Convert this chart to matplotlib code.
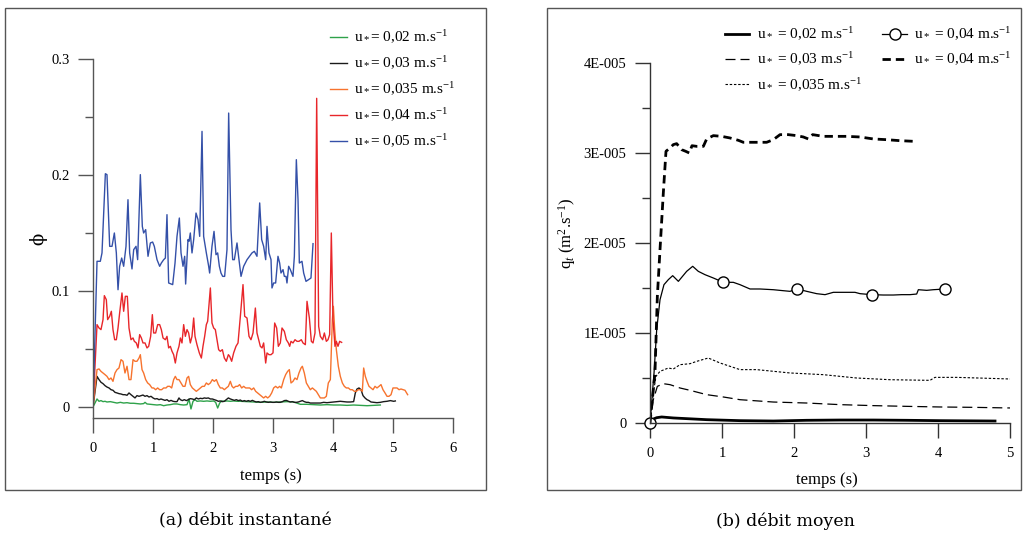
import numpy as np
import matplotlib.pyplot as plt
from matplotlib.patches import Rectangle

plt.rcParams['font.family'] = 'Liberation Serif'
plt.rcParams['mathtext.fontset'] = 'custom'
plt.rcParams['mathtext.rm'] = 'Liberation Serif'
plt.rcParams['mathtext.it'] = 'Liberation Serif:italic'
plt.rcParams['mathtext.bf'] = 'Liberation Serif:bold'

# --------------------------------------------------
# (a) instantaneous flux phi(t) as (t, phi)
# --------------------------------------------------
phi_002 = [
    (0, 0), (0.067, 0.0069), (0.1, 0.0049), (0.133, 0.0055), (0.167, 0.0046), (0.2, 0.0049),
    (0.233, 0.0043), (0.289, 0.0046), (0.344, 0.0040), (0.4, 0.0034), (0.456, 0.0040),
    (0.511, 0.0034), (0.567, 0.0037), (0.622, 0.0032), (0.678, 0.0032), (0.733, 0.0029),
    (0.789, 0.0026), (0.844, 0.0029), (0.867, 0.0040), (0.9, 0.0026), (0.956, 0.0023),
    (1.011, 0.0020), (1.067, 0.0017), (1.122, 0.0020), (1.178, 0.0011), (1.233, 0.0017),
    (1.289, 0.0020), (1.344, 0.0026), (1.4, 0.0026), (1.456, 0.0020), (1.511, 0.0017),
    (1.567, 0.0020), (1.6, 0.0069), (1.633, -0.0017), (1.667, 0.0049), (1.7, 0.0063),
    (1.733, 0.0049), (1.789, 0.0052), (1.844, 0.0049), (1.9, 0.0052), (1.956, 0.0049),
    (2.011, 0.0052), (2.044, 0.0040), (2.078, -0.0009), (2.111, 0.0034), (2.144, 0.0052),
    (2.178, 0.0049), (2.233, 0.0052), (2.289, 0.0049), (2.344, 0.0052), (2.4, 0.0049),
    (2.456, 0.0049), (2.567, 0.0046), (2.678, 0.0043), (2.789, 0.0040), (2.9, 0.0043),
    (3.011, 0.0040), (3.122, 0.0043), (3.233, 0.0046), (3.344, 0.0043), (3.456, 0.0023),
    (3.567, 0.0023), (3.678, 0.0020), (3.789, 0.0017), (3.9, 0.0020), (4.011, 0.0017),
    (4.122, 0.0017), (4.233, 0.0014), (4.344, 0.0017), (4.456, 0.0014), (4.567, 0.0011),
    (4.678, 0.0014), (4.789, 0.0017),
]

phi_003 = [
    (0, 0), (0.067, 0.0264), (0.1, 0.0236), (0.133, 0.0213), (0.167, 0.0201), (0.2, 0.0184),
    (0.233, 0.0172), (0.267, 0.0164), (0.3, 0.0149), (0.333, 0.0144), (0.367, 0.0126),
    (0.4, 0.0121), (0.433, 0.0115), (0.467, 0.0112), (0.5, 0.0106), (0.533, 0.0106),
    (0.567, 0.0101), (0.6, 0.0121), (0.633, 0.0106), (0.667, 0.0092), (0.7, 0.0078),
    (0.733, 0.0098), (0.767, 0.0092), (0.8, 0.0098), (0.833, 0.0103), (0.867, 0.0092),
    (0.9, 0.0098), (0.933, 0.0086), (0.967, 0.0092), (1.0, 0.0078), (1.033, 0.0069),
    (1.067, 0.0072), (1.1, 0.0063), (1.133, 0.0069), (1.167, 0.0063), (1.2, 0.0057),
    (1.233, 0.0063), (1.267, 0.0049), (1.3, 0.0057), (1.333, 0.0049), (1.367, 0.0046),
    (1.4, 0.0046), (1.433, 0.0078), (1.456, 0.0063), (1.489, 0.0055), (1.522, 0.0063),
    (1.556, 0.0055), (1.589, 0.0063), (1.622, 0.0072), (1.656, 0.0069), (1.689, 0.0063),
    (1.722, 0.0078), (1.756, 0.0069), (1.789, 0.0075), (1.822, 0.0072), (1.856, 0.0078),
    (1.889, 0.0075), (1.922, 0.0078), (1.956, 0.0069), (1.989, 0.0069), (2.022, 0.0063),
    (2.056, 0.0057), (2.089, 0.0049), (2.122, 0.0052), (2.156, 0.0046), (2.189, 0.0049),
    (2.222, 0.0063), (2.256, 0.0078), (2.289, 0.0069), (2.322, 0.0063), (2.356, 0.0057),
    (2.389, 0.0063), (2.422, 0.0055), (2.456, 0.0060), (2.489, 0.0049), (2.522, 0.0055),
    (2.556, 0.0049), (2.589, 0.0055), (2.622, 0.0049), (2.656, 0.0057), (2.689, 0.0049),
    (2.722, 0.0043), (2.756, 0.0046), (2.789, 0.0040), (2.822, 0.0043), (2.856, 0.0049),
    (2.889, 0.0043), (2.922, 0.0040), (2.956, 0.0043), (2.989, 0.0040), (3.022, 0.0040),
    (3.056, 0.0043), (3.089, 0.0040), (3.122, 0.0040), (3.156, 0.0046), (3.189, 0.0055),
    (3.222, 0.0057), (3.256, 0.0049), (3.289, 0.0043), (3.322, 0.0046), (3.356, 0.0040),
    (3.389, 0.0040), (3.422, 0.0043), (3.456, 0.0049), (3.489, 0.0055), (3.522, 0.0046),
    (3.556, 0.0040), (3.589, 0.0040), (3.622, 0.0034), (3.678, 0.0034), (3.733, 0.0034),
    (3.789, 0.0034), (3.844, 0.0040), (3.9, 0.0037), (3.956, 0.0040), (4.011, 0.0043),
    (4.067, 0.0046), (4.122, 0.0049), (4.178, 0.0046), (4.233, 0.0043), (4.289, 0.0043),
    (4.344, 0.0046), (4.372, 0.0121), (4.4, 0.0155), (4.433, 0.0164), (4.467, 0.0149),
    (4.5, 0.0098), (4.533, 0.0078), (4.567, 0.0063), (4.6, 0.0055), (4.633, 0.0043),
    (4.678, 0.0040), (4.733, 0.0037), (4.789, 0.0040), (4.844, 0.0046), (4.9, 0.0049),
    (4.956, 0.0055), (5.011, 0.0049), (5.039, 0.0052),
]

phi_0035 = [
    (0, 0), (0.067, 0.0322), (0.1, 0.0328), (0.133, 0.0307), (0.167, 0.0293), (0.2, 0.0279),
    (0.233, 0.0264), (0.267, 0.0236), (0.3, 0.0250), (0.333, 0.0221), (0.367, 0.0293),
    (0.4, 0.0322), (0.433, 0.0336), (0.467, 0.0408), (0.5, 0.0394), (0.533, 0.0293),
    (0.567, 0.0351), (0.6, 0.0236), (0.633, 0.0236), (0.667, 0.0408), (0.7, 0.0394),
    (0.733, 0.0394), (0.767, 0.0422), (0.789, 0.0451), (0.817, 0.0322), (0.844, 0.0293),
    (0.878, 0.0236), (0.911, 0.0207), (0.944, 0.0193), (0.983, 0.0164), (1.011, 0.0164),
    (1.044, 0.0149), (1.078, 0.0164), (1.111, 0.0149), (1.144, 0.0149), (1.178, 0.0164),
    (1.217, 0.0164), (1.244, 0.0178), (1.278, 0.0178), (1.311, 0.0164), (1.344, 0.0236),
    (1.372, 0.0264), (1.4, 0.0236), (1.433, 0.0236), (1.467, 0.0207), (1.5, 0.0178),
    (1.533, 0.0178), (1.567, 0.0250), (1.594, 0.0264), (1.622, 0.0193), (1.656, 0.0164),
    (1.689, 0.0149), (1.722, 0.0135), (1.756, 0.0149), (1.789, 0.0164), (1.822, 0.0178),
    (1.856, 0.0178), (1.889, 0.0207), (1.922, 0.0193), (1.956, 0.0207), (1.989, 0.0236),
    (2.022, 0.0221), (2.056, 0.0236), (2.089, 0.0193), (2.122, 0.0164), (2.156, 0.0164),
    (2.189, 0.0149), (2.222, 0.0164), (2.256, 0.0178), (2.289, 0.0221), (2.317, 0.0178),
    (2.344, 0.0164), (2.378, 0.0178), (2.411, 0.0178), (2.444, 0.0193), (2.478, 0.0164),
    (2.511, 0.0178), (2.544, 0.0164), (2.578, 0.0164), (2.611, 0.0164), (2.644, 0.0149),
    (2.678, 0.0164), (2.711, 0.0135), (2.744, 0.0121), (2.778, 0.0106), (2.811, 0.0092),
    (2.844, 0.0078), (2.878, 0.0092), (2.911, 0.0078), (2.944, 0.0092), (2.978, 0.0121),
    (3.011, 0.0164), (3.044, 0.0178), (3.078, 0.0164), (3.111, 0.0178), (3.139, 0.0164),
    (3.178, 0.0236), (3.211, 0.0279), (3.244, 0.0307), (3.272, 0.0322), (3.3, 0.0207),
    (3.333, 0.0221), (3.367, 0.0250), (3.4, 0.0236), (3.433, 0.0293), (3.467, 0.0336),
    (3.489, 0.0351), (3.522, 0.0293), (3.556, 0.0207), (3.589, 0.0178), (3.622, 0.0149),
    (3.656, 0.0164), (3.689, 0.0149), (3.722, 0.0135), (3.756, 0.0106), (3.789, 0.0078),
    (3.822, 0.0078), (3.856, 0.0078), (3.889, 0.0092), (3.922, 0.0207), (3.956, 0.0236),
    (3.989, 0.0753), (4.006, 0.0868), (4.028, 0.0667), (4.056, 0.0494), (4.089, 0.0351),
    (4.122, 0.0264), (4.156, 0.0207), (4.189, 0.0178), (4.222, 0.0164), (4.256, 0.0164),
    (4.289, 0.0149), (4.322, 0.0149), (4.356, 0.0135), (4.389, 0.0135), (4.422, 0.0149),
    (4.456, 0.0149), (4.489, 0.0135), (4.511, 0.0336), (4.539, 0.0264), (4.567, 0.0221),
    (4.6, 0.0178), (4.633, 0.0164), (4.667, 0.0149), (4.7, 0.0178), (4.733, 0.0164),
    (4.767, 0.0178), (4.8, 0.0193), (4.833, 0.0149), (4.867, 0.0121), (4.9, 0.0092),
    (4.933, 0.0092), (4.967, 0.0106), (5.0, 0.0164), (5.033, 0.0164), (5.067, 0.0164),
    (5.1, 0.0149), (5.133, 0.0155), (5.167, 0.0149), (5.2, 0.0144), (5.244, 0.0106),
]

phi_004 = [
    (0, 0), (0.067, 0.0710), (0.1, 0.0681), (0.133, 0.0667), (0.167, 0.0753), (0.189, 0.0960),
    (0.222, 0.0925), (0.244, 0.0753), (0.278, 0.0782), (0.306, 0.0825), (0.333, 0.0667),
    (0.361, 0.0580), (0.389, 0.0580), (0.417, 0.0681), (0.444, 0.0810), (0.483, 0.0983),
    (0.511, 0.0825), (0.539, 0.0954), (0.572, 0.0954), (0.6, 0.0681), (0.633, 0.0580),
    (0.667, 0.0595), (0.689, 0.0566), (0.722, 0.0552), (0.75, 0.0509), (0.778, 0.0624),
    (0.806, 0.0595), (0.833, 0.0552), (0.867, 0.0552), (0.9, 0.0509), (0.928, 0.0523),
    (0.961, 0.0609), (0.989, 0.0796), (1.011, 0.0638), (1.044, 0.0638), (1.078, 0.0710),
    (1.111, 0.0710), (1.139, 0.0667), (1.167, 0.0595), (1.206, 0.0580), (1.233, 0.0609),
    (1.261, 0.0509), (1.289, 0.0523), (1.317, 0.0480), (1.344, 0.0451), (1.372, 0.0379),
    (1.4, 0.0466), (1.433, 0.0523), (1.456, 0.0595), (1.483, 0.0552), (1.511, 0.0710),
    (1.539, 0.0609), (1.567, 0.0667), (1.594, 0.0638), (1.622, 0.0552), (1.65, 0.0609),
    (1.678, 0.0767), (1.7, 0.0609), (1.733, 0.0537), (1.772, 0.0466), (1.806, 0.0422),
    (1.833, 0.0523), (1.861, 0.0609), (1.889, 0.0710), (1.911, 0.0739), (1.956, 0.1026),
    (1.983, 0.0724), (2.011, 0.0681), (2.039, 0.0667), (2.067, 0.0580), (2.094, 0.0494),
    (2.122, 0.0480), (2.156, 0.0494), (2.189, 0.0422), (2.222, 0.0394), (2.256, 0.0451),
    (2.278, 0.0437), (2.311, 0.0394), (2.344, 0.0466), (2.383, 0.0523), (2.417, 0.0552),
    (2.456, 0.0782), (2.5, 0.1055), (2.528, 0.0782), (2.567, 0.0767), (2.6, 0.0609),
    (2.633, 0.0580), (2.667, 0.0638), (2.706, 0.0853), (2.733, 0.0638), (2.761, 0.0580),
    (2.789, 0.0523), (2.817, 0.0509), (2.844, 0.0552), (2.878, 0.0379), (2.9, 0.0466),
    (2.933, 0.0451), (2.967, 0.0451), (3.0, 0.0466), (3.028, 0.0724), (3.061, 0.0681),
    (3.089, 0.0523), (3.122, 0.0552), (3.15, 0.0681), (3.189, 0.0652), (3.222, 0.0580),
    (3.256, 0.0552), (3.278, 0.0523), (3.3, 0.0566), (3.333, 0.0552), (3.367, 0.0580),
    (3.4, 0.0566), (3.433, 0.0566), (3.472, 0.0580), (3.5, 0.0552), (3.539, 0.0537),
    (3.567, 0.0911), (3.606, 0.0767), (3.639, 0.0566), (3.667, 0.0552), (3.7, 0.0638),
    (3.728, 0.2661), (3.761, 0.0695), (3.789, 0.0609), (3.828, 0.0580), (3.856, 0.0638),
    (3.889, 0.0566), (3.917, 0.0580), (3.944, 0.0624), (3.972, 0.1500), (4.0, 0.0753),
    (4.033, 0.0523), (4.056, 0.0566), (4.083, 0.0523), (4.111, 0.0566), (4.144, 0.0557),
]

phi_005 = [
    (0, 0), (0.067, 0.1256), (0.122, 0.1256), (0.15, 0.1328), (0.206, 0.2011), (0.233, 0.2003),
    (0.278, 0.1385), (0.317, 0.1385), (0.356, 0.1500), (0.389, 0.1328), (0.417, 0.1011),
    (0.444, 0.1213), (0.478, 0.1284), (0.511, 0.1213), (0.55, 0.1385), (0.583, 0.1787),
    (0.611, 0.1328), (0.65, 0.1190), (0.678, 0.1356), (0.717, 0.1385), (0.744, 0.1270),
    (0.789, 0.2003), (0.822, 0.1557), (0.844, 0.1500), (0.878, 0.1529), (0.917, 0.1299),
    (0.956, 0.1414), (0.994, 0.1422), (1.022, 0.1385), (1.067, 0.1270), (1.111, 0.1213),
    (1.139, 0.1241), (1.178, 0.1270), (1.206, 0.1284), (1.233, 0.1658), (1.261, 0.1069),
    (1.289, 0.1063), (1.328, 0.1055), (1.367, 0.1241), (1.4, 0.1471), (1.439, 0.1629),
    (1.467, 0.1328), (1.5, 0.1213), (1.528, 0.1299), (1.544, 0.1060), (1.583, 0.1443),
    (1.6, 0.1428), (1.622, 0.1500), (1.65, 0.1328), (1.678, 0.1443), (1.717, 0.1672),
    (1.75, 0.1615), (1.778, 0.1471), (1.817, 0.2376), (1.844, 0.1471), (1.889, 0.1328),
    (1.928, 0.1213), (1.944, 0.1155), (1.983, 0.1385), (2.017, 0.1514), (2.05, 0.1313),
    (2.078, 0.1328), (2.106, 0.1213), (2.133, 0.1155), (2.161, 0.1126), (2.194, 0.1126),
    (2.233, 0.1356), (2.261, 0.2534), (2.3, 0.1529), (2.328, 0.1270), (2.356, 0.1270),
    (2.4, 0.1414), (2.433, 0.1270), (2.467, 0.1126), (2.511, 0.1213), (2.567, 0.1270),
    (2.65, 0.1328), (2.689, 0.1342), (2.733, 0.1299), (2.778, 0.1759), (2.811, 0.1443),
    (2.844, 0.1385), (2.878, 0.1270), (2.9, 0.1557), (2.933, 0.1328), (2.967, 0.1270),
    (2.983, 0.1026), (3.011, 0.1069), (3.044, 0.1069), (3.083, 0.1299), (3.111, 0.1241),
    (3.133, 0.1155), (3.167, 0.1184), (3.189, 0.1126), (3.217, 0.1126), (3.233, 0.1069),
    (3.261, 0.1213), (3.289, 0.1184), (3.333, 0.1126), (3.356, 0.1299), (3.389, 0.2132),
    (3.417, 0.1787), (3.439, 0.1241), (3.483, 0.1256), (3.511, 0.1155), (3.55, 0.1083),
    (3.594, 0.1098), (3.633, 0.1112), (3.667, 0.1408),
]

phi_labels = [r'u$_*$= 0,02 m.s$^{-1}$', r'u$_*$= 0,03 m.s$^{-1}$', r'u$_*$= 0,035 m.s$^{-1}$',
              r'u$_*$= 0,04 m.s$^{-1}$', r'u$_*$= 0,05 m.s$^{-1}$']

# --------------------------------------------------
# (b) mean flux q_t(t), in units of 1E-005 m2/s
# --------------------------------------------------
q_t_002 = [0, 0.046, 0.093, 0.162, 0.324, 0.787, 1.25, 1.713, 2.176, 2.639, 3.102, 3.565, 4.028, 4.792]
q_v_002 = [0, 0.044, 0.059, 0.067, 0.056, 0.037, 0.026, 0.022, 0.030, 0.033, 0.033, 0.030, 0.026, 0.022]

q_t_003 = [0, 0.046, 0.102, 0.185, 0.278, 0.417, 0.556, 0.787, 1.019, 1.25, 1.713, 2.176, 2.639,
           3.102, 3.565, 4.028, 4.491, 5.0]
q_v_003 = [0, 0.259, 0.407, 0.437, 0.426, 0.389, 0.363, 0.315, 0.289, 0.259, 0.233, 0.222, 0.204,
           0.193, 0.185, 0.178, 0.174, 0.167]

q_t_0035 = [0, 0.046, 0.083, 0.139, 0.255, 0.324, 0.417, 0.556, 0.648, 0.81, 0.972, 1.25, 1.481,
            1.944, 2.407, 2.87, 3.333, 3.889, 3.958, 4.259, 4.722, 5.0]
q_v_0035 = [0, 0.333, 0.519, 0.574, 0.611, 0.600, 0.648, 0.659, 0.685, 0.722, 0.667, 0.593, 0.593,
            0.556, 0.537, 0.500, 0.481, 0.474, 0.507, 0.507, 0.496, 0.489]

q_t_004a = [0, 0.056, 0.093, 0.139, 0.194, 0.255, 0.315, 0.394, 0.509, 0.593, 0.671, 0.764, 0.88,
            1.019, 1.157, 1.25, 1.389, 1.528, 1.713, 1.852, 1.944, 2.046, 2.176, 2.315, 2.431,
            2.546, 2.685, 2.847, 2.917, 3.079, 3.241, 3.38, 3.495, 3.611, 3.704, 3.727, 3.843,
            3.935, 4.097]
q_v_004a = [0, 0.556, 1.037, 1.370, 1.537, 1.593, 1.637, 1.574, 1.685, 1.741, 1.685, 1.648, 1.611,
            1.563, 1.563, 1.537, 1.489, 1.489, 1.481, 1.470, 1.463, 1.489, 1.463, 1.437, 1.426,
            1.452, 1.452, 1.452, 1.437, 1.426, 1.422, 1.422, 1.426, 1.426, 1.433, 1.481, 1.474,
            1.481, 1.489]
q_marks_004a = [0, 1.019, 2.046, 3.079, 4.097]

q_t_004b = [0, 0.069, 0.102, 0.139, 0.185, 0.222, 0.278, 0.324, 0.37, 0.44, 0.495, 0.546, 0.583,
            0.648, 0.741, 0.787, 0.88, 0.995, 1.111, 1.227, 1.296, 1.435, 1.62, 1.713, 1.806,
            1.921, 2.037, 2.13, 2.199, 2.259, 2.407, 2.546, 2.731, 2.917, 3.102, 3.287, 3.472, 3.657]
q_v_004b = [0, 0.556, 1.407, 1.926, 2.556, 3.019, 3.056, 3.093, 3.104, 3.037, 3.019, 3.0, 3.081,
            3.074, 3.074, 3.156, 3.193, 3.185, 3.167, 3.141, 3.119, 3.119, 3.119, 3.148, 3.204,
            3.204, 3.193, 3.178, 3.156, 3.204, 3.185, 3.185, 3.185, 3.178, 3.156, 3.148, 3.137,
            3.130]

q_labels = [r'u$_*$ = 0,02 m.s$^{-1}$', r'u$_*$ = 0,03 m.s$^{-1}$', r'u$_*$ = 0,035 m.s$^{-1}$',
            r'u$_*$ = 0,04 m.s$^{-1}$', r'u$_*$ = 0,04 m.s$^{-1}$']

# --------------------------------------------------
# Figure
# --------------------------------------------------
W, H = 1024, 535
fig = plt.figure(figsize=(W / 100, H / 100), dpi=100)

# panel frames
fig.add_artist(Rectangle((5 / W, 1 - 490 / H), 481 / W, 482 / H, transform=fig.transFigure,
                         fill=False, ec='#555555', lw=1))
fig.add_artist(Rectangle((547 / W, 1 - 490 / H), 474 / W, 482 / H, transform=fig.transFigure,
                         fill=False, ec='#555555', lw=1))

# ---- (a)
ax1 = fig.add_axes([93 / W, 1 - 418 / H, 360 / W, 359 / H])
colors = ['#2ea24a', '#1a1a1a', '#f7732e', '#e8262a', '#3450a8']
for data, c, lab in zip([phi_002, phi_003, phi_0035, phi_004, phi_005], colors, phi_labels):
    t, y = np.array(data).T
    ax1.plot(t, y, color=c, lw=1.0, label=lab)

ax1.set_xlim(0, 6)
ax1.set_ylim(-0.0095, 0.3)
ax1.set_xticks(range(7))
ax1.set_yticks([0, 0.1, 0.2, 0.3], ['0', '0.1', '0.2', '0.3'])
ax1.set_yticks([0.05, 0.15, 0.25], minor=True)
ax1.set_xlabel('temps (s)', fontsize=12)
ax1.xaxis.set_label_coords(0.494, -0.14)
ax1.set_ylabel('ϕ', fontsize=13, family='DejaVu Serif')
ax1.yaxis.set_label_coords(-0.128, 0.5)

leg1 = ax1.legend(loc='upper left', bbox_to_anchor=(330 / W, 1 - 29 / H), bbox_transform=fig.transFigure,
                  frameon=False, fontsize=11, handlelength=1.1, handletextpad=0.5,
                  labelspacing=0.55, borderpad=0, borderaxespad=0)

# ---- (b)
ax2 = fig.add_axes([650 / W, 1 - 423 / H, 360 / W, 360 / H])
scale = 1e-5
ax2.plot(q_t_002, np.array(q_v_002) * scale, color='black', lw=2.0, label=q_labels[0])
ax2.plot(q_t_003, np.array(q_v_003) * scale, color='black', lw=0.9, dashes=(8, 4), label=q_labels[1])
ax2.plot(q_t_0035, np.array(q_v_0035) * scale, color='black', lw=0.8, dashes=(2.2, 1.6), label=q_labels[2])
marks = np.flatnonzero(np.isin(q_t_004a, q_marks_004a))
ax2.plot(q_t_004a, np.array(q_v_004a) * scale, color='black', lw=0.9, marker='o', ms=8,
         mfc='white', mec='black', mew=1, markevery=list(marks), clip_on=False, label=q_labels[3])
ax2.plot(q_t_004b, np.array(q_v_004b) * scale, color='black', lw=2.0, dashes=(3, 1.8), label=q_labels[4])

ax2.set_xlim(0, 5)
ax2.set_ylim(0, 4e-5)
ax2.set_xticks(range(6))
ax2.set_yticks([0, 1e-5, 2e-5, 3e-5, 4e-5], ['0', '1E-005', '2E-005', '3E-005', '4E-005'])
ax2.set_yticks([0.5e-5, 1.5e-5, 2.5e-5, 3.5e-5], minor=True)
ax2.set_xlabel('temps (s)', fontsize=12)
ax2.xaxis.set_label_coords(0.49, -0.136)
ax2.set_ylabel(r'q$_t$ (m$^2$.s$^{-1}$)', fontsize=12)
ax2.yaxis.set_label_coords(-0.2, 0.528)

leg2 = ax2.legend(loc='upper left', bbox_to_anchor=(725 / W, 1 - 26 / H), bbox_transform=fig.transFigure,
                  ncol=2, frameon=False, fontsize=11, handlelength=1.6, handletextpad=0.5,
                  labelspacing=0.5, columnspacing=1.3, borderpad=0, borderaxespad=0)

for ax, sc in [(ax1, '#555555'), (ax2, '#333333')]:
    ax.spines['top'].set_visible(False)
    ax.spines['right'].set_visible(False)
    for s in ['left', 'bottom']:
        ax.spines[s].set_color(sc)
        ax.spines[s].set_linewidth(1)
    ax.tick_params(which='major', direction='out', length=11, width=1, color=sc, labelsize=10.5, pad=6)
    ax.tick_params(which='minor', direction='out', length=6, width=1, color=sc)

# captions
fig.text(245 / W, 1 - 521 / H, '(a) débit instantané', ha='center', va='center',
         family='DejaVu Serif', fontsize=12.5)
fig.text(785 / W, 1 - 521 / H, '(b) débit moyen', ha='center', va='center',
         family='DejaVu Serif', fontsize=12.5)

plt.savefig('out.png', dpi=100)
